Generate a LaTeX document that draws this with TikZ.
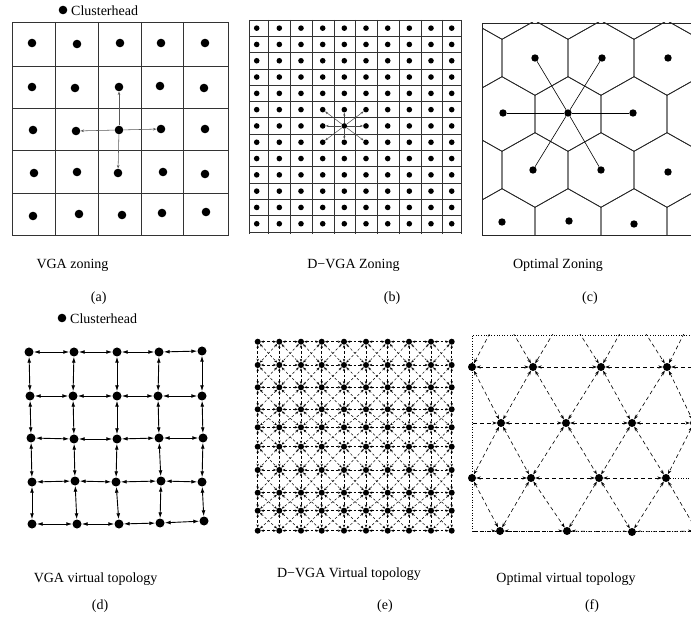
\documentclass[tikz,border=0pt]{standalone}
\usepackage{fontspec}
\setmainfont{Liberation Serif}
\usetikzlibrary{arrows.meta}
\begin{document}
\begin{tikzpicture}[x=1pt,y=-1pt,
  lbl/.style={font=\fontsize{14}{16}\selectfont,inner sep=0pt},
  gridln/.style={line width=0.8pt,draw=black!80},
  gridlnb/.style={line width=0.7pt,draw=black!80},
  dotA/.style={circle,fill=black,inner sep=0pt,minimum size=8.6pt},
  dotB/.style={circle,fill=black,inner sep=0pt,minimum size=5.6pt},
  dotC/.style={circle,fill=black,inner sep=0pt,minimum size=7.4pt},
  dotD/.style={circle,fill=black,inner sep=0pt,minimum size=9pt},
  dotE/.style={circle,fill=black,inner sep=0pt,minimum size=6pt},
  dotF/.style={circle,fill=black,inner sep=0pt,minimum size=8pt},
  arrA/.style={draw=black!65,line width=0.55pt,-{Stealth[length=3.5pt,width=2.6pt]}},
  arrB/.style={draw=black!70,line width=0.5pt,-{Stealth[length=3pt,width=2.2pt]}},
  hexln/.style={line width=0.7pt,draw=black!85},
  spoke/.style={line width=0.6pt,draw=black},
  arrD/.style={line width=0.9pt,{Latex[length=6pt,width=3.8pt]}-{Latex[length=6pt,width=3.8pt]}},
  arrE/.style={line width=0.5pt,dash pattern=on 2.5pt off 2pt,{Stealth[length=3pt,width=2.4pt]}-{Stealth[length=3pt,width=2.4pt]}},
  arrF/.style={line width=0.6pt,dash pattern=on 4pt off 3pt,{Stealth[length=4.5pt,width=3.2pt]}-{Stealth[length=4.5pt,width=3.2pt]}},
  boxF/.style={line width=0.6pt,dotted},
]
\useasboundingbox (0,0) rectangle (691,617);

% ---------------- (a) VGA zoning ----------------
\node[dotA] (legA) at (63,10) {};
\node[lbl,anchor=west] (legAt) at (71,10.5) {Clusterhead};
\draw[gridln] (12,22) rectangle (228,235);
\foreach \x in {55,98,141,183} {\draw[gridln] (\x,22) -- (\x,235);}
\foreach \y in {66,108,150,193} {\draw[gridln] (12,\y) -- (228,\y);}
\foreach \n/\x/\y in {1-1/32/43,1-2/77/44,1-3/120/43,1-4/161/43,1-5/205/43,
  2-1/32/87,2-2/75/88,2-3/119/87,2-4/160/86,2-5/204/88,
  3-1/33/130,3-2/76/131,3-3/119/130,3-4/161/129,3-5/205/129,
  4-1/34/173,4-2/77/172,4-3/118/173,4-4/163/172,4-5/205/174,
  5-1/33/216,5-2/79/214,5-3/122/215,5-4/162/213,5-5/206/212}
  {\node[dotA] (a-\n) at (\x,\y) {};}
\foreach \t in {3-2,3-4,2-3,4-3} {\draw[arrA] (a-3-3) -- (a-\t);}

% ---------------- (b) D-VGA zoning ----------------
\foreach \x in {249.3,268.3,290,312.7,334.3,355.7,377.7,399.3,421,442.7,461.7}
  {\draw[gridlnb] (\x,20) -- (\x,234);}
\foreach \k in {0,...,13} {\draw[gridlnb] (249.3,{20+16.3*\k}) -- (461.7,{20+16.3*\k});}
\foreach \c/\x in {0/256.7,1/279.3,2/301,3/322.7,4/344.3,5/366,6/387.7,7/409.3,8/431,9/451.7} {
  \foreach \r in {0,...,12} {
    \node[dotB] (b-\r-\c) at (\x,{20+16.3*(\r+0.5)}) {};
  }
}
\foreach \r/\c in {5/3,5/4,5/5,6/3,6/5,7/3,7/4,7/5} {\draw[arrB] (b-6-4) -- (b-\r-\c);}

% ---------------- (c) Optimal zoning ----------------
\begin{scope}
  \clip (482,23) rectangle (700,235);
  \foreach \r in {0,...,5} {
    \foreach \k in {-1,...,4} {
      \pgfmathsetmacro\cx{502+66*\k+33*mod(\r,2)}
      \pgfmathsetmacro\cy{2+56*\r}
      \draw[hexln] (\cx,\cy) ++(0,-37.3) -- ++(33,18.6) -- ++(0,37.4) -- ++(-33,18.6)
        -- ++(-33,-18.6) -- ++(0,-37.4) -- cycle;
    }
  }
\end{scope}
\draw[hexln] (700,23) -- (482,23) -- (482,235) -- (700,235);
\foreach \n/\x/\y in {1/535/58,2/602/58,3/668/58,4/503/113,5/568/113,6/633/113,
  7/533/170,8/601/170,9/668/172,10/502/222,11/569/221,12/634/224}
  {\node[dotC] (c-\n) at (\x,\y) {};}
\foreach \t in {1,2,4,6,7,8} {\draw[spoke] (c-5) -- (c-\t);}

% ---------------- (d) VGA virtual topology ----------------
\node[dotA] (legD) at (62,318) {};
\node[lbl,anchor=west] (legDt) at (70,318.5) {Clusterhead};
\foreach \n/\x/\y in {1-1/29/352,1-2/74/352,1-3/117/352,1-4/159/352,1-5/202/351,
  2-1/30/396,2-2/73/396,2-3/117/396,2-4/158/396,2-5/202/396,
  3-1/31/438,3-2/74/439,3-3/117/439,3-4/159/438,3-5/203/438,
  4-1/32/482,4-2/75/481,4-3/116/482,4-4/161/481,4-5/202/482,
  5-1/32/524,5-2/77/524,5-3/119/524,5-4/160/523,5-5/204/521}
  {\node[dotD] (d-\n) at (\x,\y) {};}
\foreach \r in {1,...,5} {
  \foreach \c [evaluate=\c as \cn using int(\c+1)] in {1,...,4} {
    \draw[arrD] (d-\r-\c) -- (d-\r-\cn);
  }
}
\foreach \c in {1,...,5} {
  \foreach \r [evaluate=\r as \rn using int(\r+1)] in {1,...,4} {
    \draw[arrD] (d-\r-\c) -- (d-\rn-\c);
  }
}

% ---------------- (e) D-VGA virtual topology ----------------
\foreach \r/\y in {0/341.7,1/365,2/387.3,3/409.3,4/427.3,5/446.7,6/470,7/492.7,8/510.7,9/530.7} {
  \foreach \c/\x in {0/257.7,1/279.3,2/301,3/321.7,4/344,5/366,6/387.7,7/409,8/431,9/451.7} {
    \node[dotE] (e-\r-\c) at (\x,\y) {};
  }
}
\foreach \r in {0,...,9} {
  \foreach \c [evaluate=\c as \cn using int(\c+1)] in {0,...,8} {
    \draw[arrE] (e-\r-\c) -- (e-\r-\cn);
  }
}
\foreach \c in {0,...,9} {
  \foreach \r [evaluate=\r as \rn using int(\r+1)] in {0,...,8} {
    \draw[arrE] (e-\r-\c) -- (e-\rn-\c);
  }
}
\foreach \r [evaluate=\r as \rn using int(\r+1)] in {0,...,8} {
  \foreach \c [evaluate=\c as \cn using int(\c+1)] in {0,...,8} {
    \draw[arrE] (e-\r-\c) -- (e-\rn-\cn);
    \draw[arrE] (e-\r-\cn) -- (e-\rn-\c);
  }
}

% ---------------- (f) Optimal virtual topology ----------------
\foreach \j/\x in {0/435,1/501,2/566,3/632,4/695,5/760} {\coordinate (f-0-\j) at (\x,312);}
\foreach \j/\x in {0/406,1/472,2/533,3/600,4/667,5/733} {\coordinate (f-5-\j) at (\x,586);}
\coordinate (f-1-0) at (406,367); \coordinate (f-1-5) at (733,367);
\coordinate (f-2-0) at (435,423); \coordinate (f-2-5) at (760,423);
\coordinate (f-3-0) at (406,478); \coordinate (f-3-5) at (733,478);
\coordinate (f-4-0) at (435,531); \coordinate (f-4-5) at (760,531);
\foreach \n/\x/\y in {1-1/472/367,1-2/533/367,1-3/601/367,1-4/667/367,
  2-1/501/423,2-2/566/423,2-3/632/423,2-4/694/423,
  3-1/472/478,3-2/531/478,3-3/599/478,3-4/666/478,
  4-1/500/531,4-2/567/531,4-3/632/532,4-4/697/531}
  {\node[dotF] (f-\n) at (\x,\y) {};}
\begin{scope}
  \clip (472,335) rectangle (700,531.5);
  \foreach \r/\j/\jn in {0/0/1,0/1/2,0/2/3,0/3/4,0/4/5,
    1/0/1,1/1/2,1/2/3,1/3/4,1/4/5,
    2/0/1,2/1/2,2/2/3,2/3/4,2/4/5,
    3/0/1,3/1/2,3/2/3,3/3/4,
    4/0/1,4/1/2,4/2/3,4/3/4,4/4/5,
    5/0/1,5/1/2,5/2/3,5/3/4,5/4/5}
    {\draw[arrF] (f-\r-\j) -- (f-\r-\jn);}
  \draw[boxF] (f-3-4) -- (f-3-5);
  \foreach \r [evaluate=\r as \rn using int(\r+1)] in {0,2,4} {
    \foreach \j in {0,...,5} {\draw[arrF] (f-\r-\j) -- (f-\rn-\j);}
    \foreach \j [evaluate=\j as \jn using int(\j+1)] in {0,...,4} {\draw[arrF] (f-\r-\j) -- (f-\rn-\jn);}
  }
  \foreach \r [evaluate=\r as \rn using int(\r+1)] in {1,3} {
    \foreach \j in {0,...,5} {\draw[arrF] (f-\r-\j) -- (f-\rn-\j);}
    \foreach \j [evaluate=\j as \jm using int(\j-1)] in {1,...,5} {\draw[arrF] (f-\r-\j) -- (f-\rn-\jm);}
  }
\end{scope}
\draw[boxF] (700,335) -- (472,335) -- (472,531) -- (700,531);

% ---------------- captions ----------------
\node[lbl] (capa) at (72.5,265) {VGA zoning};
\node[lbl] (taga) at (98.7,298) {(a)};
\node[lbl] (capb) at (353.5,265) {D−VGA Zoning};
\node[lbl] (tagb) at (392,298) {(b)};
\node[lbl] (capc) at (558,265) {Optimal Zoning};
\node[lbl] (tagc) at (590,298) {(c)};
\node[lbl] (capd) at (95.6,579) {VGA virtual topology};
\node[lbl] (tagd) at (100,606) {(d)};
\node[lbl] (cape) at (349,574) {D−VGA Virtual topology};
\node[lbl] (tage) at (385,606) {(e)};
\node[lbl] (capf) at (566,579) {Optimal virtual topology};
\node[lbl] (tagf) at (592,606) {(f)};
\end{tikzpicture}
\end{document}
